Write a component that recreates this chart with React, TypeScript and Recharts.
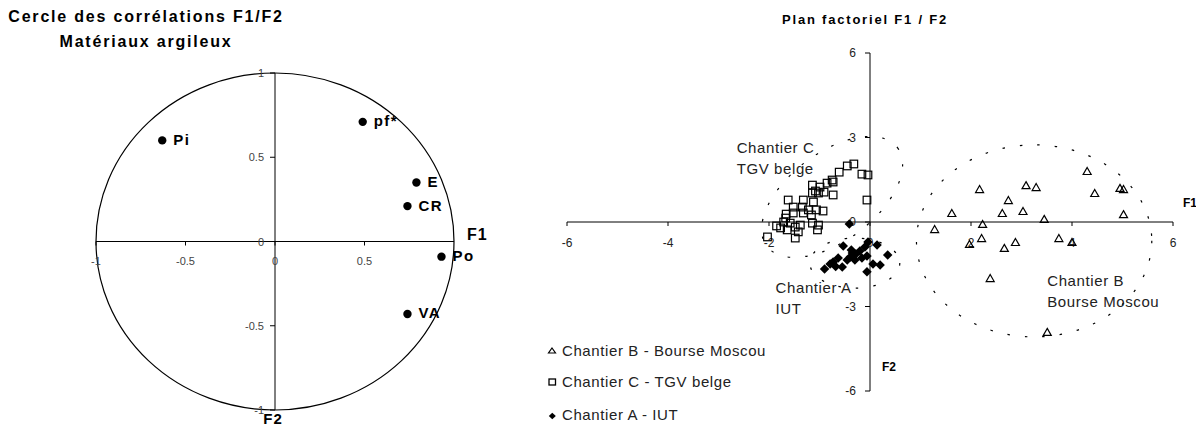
import { ScatterChart, Scatter, XAxis, YAxis, ReferenceLine, ReferenceDot, ReferenceArea, Legend } from 'recharts'

const FONT = '"Liberation Sans", Arial, Helvetica, sans-serif'

// Cercle des corrélations : coordonnées des variables sur F1 / F2
const variables = ['Pi', 'pf*', 'E', 'CR', 'Po', 'VA']
const corrF1 = [-0.63, 0.49, 0.79, 0.74, 0.93, 0.74]
const corrF2 = [0.6, 0.71, 0.35, 0.21, -0.09, -0.43]
const corrTicksX = [-1, -0.5, 0, 0.5]
const corrTicksY = [1, 0.5, 0, -0.5, -1]

// Plan factoriel : scores des individus [F1, F2] par chantier
const chantierB = [
  [4.3, 1.81], [4.45, 1.03], [4.95, 1.21], [5.02, 1.17], [5.02, 0.28], [3.45, 0.11],
  [3.29, 1.24], [3.09, 1.31], [2.74, 0.78], [3.03, 0.39], [2.62, 0.32], [2.17, 1.17],
  [1.62, 0.32], [1.28, -0.25], [2.23, -0.07], [2.21, -0.57], [1.97, -0.78], [2.66, -0.92],
  [2.88, -0.71], [3.74, -0.57], [4.0, -0.71], [2.38, -1.99], [3.51, -3.9],
]
const chantierC = [
  [-0.32, 2.06], [-0.45, 1.99], [-0.16, 1.7], [-0.04, 1.67], [-0.61, 1.77], [-0.75, 1.49],
  [-0.85, 1.38], [-0.73, 1.42], [-0.99, 1.24], [-1.14, 1.31], [-1.08, 1.1], [-1.14, 1.03],
  [-1.02, 1.03], [-0.91, 1.06], [-0.73, 0.96], [-0.06, 0.78], [-1.62, 0.78], [-1.32, 0.78],
  [-1.12, 0.71], [-1.52, 0.53], [-1.34, 0.53], [-1.22, 0.43], [-1.06, 0.43], [-0.93, 0.39],
  [-1.66, 0.28], [-1.52, 0.32], [-1.32, 0.32], [-1.16, 0.25], [-1.71, 0.0], [-1.77, -0.21],
  [-1.58, -0.04], [-1.48, -0.18], [-1.38, -0.11], [-1.14, -0.04], [-1.04, -0.28], [-1.42, -0.35],
  [-1.64, -0.28], [-2.03, -0.53], [-1.48, -0.57], [-1.02, -0.11], [-1.85, -0.14], [-1.67, 0.14],
]
const chantierA = [
  [-0.41, -0.07], [-0.53, -0.85], [-0.37, -0.99], [-0.2, -1.03], [-0.1, -0.89], [-0.04, -0.71],
  [0.14, -0.82], [0.35, -1.17], [-0.28, -1.14], [-0.39, -1.24], [-0.45, -1.35], [-0.63, -1.28],
  [-0.73, -1.42], [-0.79, -1.49], [-0.9, -1.67], [-0.55, -1.6], [-0.3, -1.35], [-0.16, -1.28],
  [-0.06, -1.21], [0.06, -1.49], [0.2, -1.53], [-0.06, -1.77], [-0.35, -1.1], [-0.68, -1.58],
]
const planTicksX = [-6, -4, -2, 0, 2, 4, 6]
const planTicksY = [6, 3, 0, -3, -6]

// ellipses de regroupement : centre, demi-axes (unités F) et inclinaison (degrés)
const groupCenterF1 = [-0.75, -0.3, 3.25]
const groupCenterF2 = [0.89, -1.46, -0.67]
const groupRadiusF1 = [1.62, 0.89, 2.33]
const groupRadiusF2 = [1.56, 0.89, 3.41]
const groupTilt = [-37, 0, 0]
const groupCaption = [['Chantier C', 'TGV belge'], ['Chantier A', 'IUT'], ['Chantier B', 'Bourse Moscou']]
const captionF1 = [-2.64, -1.87, 3.51]
const captionF2 = [2.63, -2.31, -2.06]

const legendLabels = ['Chantier B - Bourse Moscou', 'Chantier C - TGV belge', 'Chantier A - IUT']

const corrData = variables.map((name, i) => ({ name, x: corrF1[i], y: corrF2[i] }))
const toPoints = (rows: number[][]) => rows.map(([x, y]) => ({ x, y }))

const fmt = (v: number) => String(v)

// --- marker shapes ---
const VariableDot = (p: any) => (
  <g>
    <circle cx={p.cx} cy={p.cy} r={4.2} fill="#000" />
    <text x={p.cx + 11} y={p.cy - 1} dominantBaseline="central" fontSize={15} fontWeight="bold"
      letterSpacing={1.5} fontFamily={FONT} fill="#000">{p.payload.name}</text>
  </g>
)
const triangle = (cx: number, cy: number, w: number, h: number) =>
  `${cx},${cy - h / 2} ${cx + w / 2},${cy + h / 2} ${cx - w / 2},${cy + h / 2}`
const diamond = (cx: number, cy: number, w: number, h: number) =>
  `${cx},${cy - h / 2} ${cx + w / 2},${cy} ${cx},${cy + h / 2} ${cx - w / 2},${cy}`

const TriangleMark = (p: any) => (
  <polygon points={triangle(p.cx, p.cy, 8, 7)} fill="none" stroke="#000" strokeWidth={1.2} />
)
const SquareMark = (p: any) => (
  <rect x={p.cx - 3.8} y={p.cy - 3.8} width={7.6} height={7.6} fill="none" stroke="#000" strokeWidth={1.2} />
)
const DiamondMark = (p: any) => (
  <polygon points={diamond(p.cx, p.cy, 9.5, 9.5)} fill="#000" />
)

// --- axis ticks drawn at the crossing axes ---
const xTick = (label: string, len: number, dy: number, size: number, color: string) => (p: any) => (
  <g>
    <line x1={p.cx} y1={p.cy} x2={p.cx} y2={p.cy + len} stroke="#000" />
    <text x={p.cx} y={p.cy + dy} textAnchor="middle" dominantBaseline="central" fontSize={size}
      fontFamily={FONT} fill={color}>{label}</text>
  </g>
)
const yTick = (label: string, len: number, dx: number, size: number, color: string) => (p: any) => (
  <g>
    <line x1={p.cx - len} y1={p.cy} x2={p.cx} y2={p.cy} stroke="#000" />
    <text x={p.cx - dx} y={p.cy} textAnchor="end" dominantBaseline="central" fontSize={size}
      fontFamily={FONT} fill={color}>{label}</text>
  </g>
)

const ellipseShape = (tilt: number, dash?: string, width = 1) => (p: any) => {
  const cx = p.x + p.width / 2
  const cy = p.y + p.height / 2
  return (
    <ellipse cx={cx} cy={cy} rx={p.width / 2} ry={p.height / 2} transform={`rotate(${tilt} ${cx} ${cy})`}
      fill="none" stroke="#000" strokeWidth={width} strokeDasharray={dash} />
  )
}

const captionShape = (lines: string[]) => (p: any) => (
  <text x={p.cx} y={p.cy} fontSize={15} letterSpacing={0.6} fontFamily={FONT} fill="#222">
    {lines.map((l, i) => (
      <tspan key={l} x={p.cx} y={p.cy + i * 21} dominantBaseline="central">{l}</tspan>
    ))}
  </text>
)

const PlanLegend = () => (
  <svg width={250} height={100} style={{ display: 'block' }}>
    <polygon points={triangle(12, 20.5, 7, 5)} fill="none" stroke="#000" strokeWidth={1.2} />
    <rect x={9} y={49} width={6.5} height={6} fill="none" stroke="#000" strokeWidth={1.3} />
    <polygon points={diamond(12.3, 86, 7, 6.5)} fill="#000" />
    {legendLabels.map((l, i) => (
      <text key={l} x={22} y={[20, 51.7, 84.5][i]} dominantBaseline="central" fontSize={15}
        letterSpacing={0.6} fontFamily={FONT} fill="#222">{l}</text>
    ))}
  </svg>
)

function CorrelationCircle() {
  return (
    <ScatterChart width={520} height={426} margin={{ top: 73, right: 66, bottom: 16, left: 96 }}>
      <XAxis type="number" dataKey="x" domain={[-1, 1]} hide />
      <YAxis type="number" dataKey="y" domain={[-1, 1]} hide />
      <ReferenceArea x1={-1} x2={1} y1={-1} y2={1} ifOverflow="visible" shape={ellipseShape(0, undefined, 1.2)} />
      <ReferenceLine x={0} stroke="#000" />
      <ReferenceLine y={0} stroke="#000" />
      {corrTicksX.map((t) => (
        <ReferenceDot key={`x${t}`} x={t} y={0} ifOverflow="visible" shape={xTick(fmt(t), 4, 19, 11, '#444')} />
      ))}
      {corrTicksY.map((t) => (
        <ReferenceDot key={`y${t}`} x={0} y={t} ifOverflow="visible" shape={yTick(fmt(t), 5, 11, 11, '#444')} />
      ))}
      <Scatter data={corrData} shape={VariableDot} isAnimationActive={false} />
    </ScatterChart>
  )
}

function FactorPlane() {
  return (
    <ScatterChart width={676} height={426} margin={{ top: 53, right: 23, bottom: 35, left: 47 }}>
      <XAxis type="number" dataKey="x" domain={[-6, 6]} hide />
      <YAxis type="number" dataKey="y" domain={[-6, 6]} hide />
      {groupCenterF1.map((c, i) => (
        <ReferenceArea key={`g${i}`} ifOverflow="visible"
          x1={c - groupRadiusF1[i]} x2={c + groupRadiusF1[i]}
          y1={groupCenterF2[i] - groupRadiusF2[i]} y2={groupCenterF2[i] + groupRadiusF2[i]}
          shape={ellipseShape(groupTilt[i], '2.5 15', 1.2)} />
      ))}
      <ReferenceLine x={0} stroke="#000" />
      <ReferenceLine y={0} stroke="#000" />
      {planTicksX.map((t) => (
        <ReferenceDot key={`x${t}`} x={t} y={0} ifOverflow="visible" shape={xTick(fmt(t), 4, 21, 12, '#222')} />
      ))}
      {planTicksY.map((t) => (
        <ReferenceDot key={`y${t}`} x={0} y={t} ifOverflow="visible" shape={yTick(fmt(t), 5, 14, 12, '#222')} />
      ))}
      {groupCaption.map((lines, i) => (
        <ReferenceDot key={lines[0]} x={captionF1[i]} y={captionF2[i]} ifOverflow="visible" shape={captionShape(lines)} />
      ))}
      <Scatter data={toPoints(chantierC)} shape={SquareMark} isAnimationActive={false} />
      <Scatter data={toPoints(chantierB)} shape={TriangleMark} isAnimationActive={false} />
      <Scatter data={toPoints(chantierA)} shape={DiamondMark} isAnimationActive={false} />
      <Legend layout="vertical" align="center" verticalAlign="middle" content={PlanLegend}
        wrapperStyle={{ left: 20, top: 330, width: 250, height: 100 }} />
    </ScatterChart>
  )
}

export default function App() {
  const bold = { fontFamily: FONT, fontWeight: 'bold' as const, fill: '#000' }
  return (
    <div style={{ position: 'absolute', left: 0, top: 0, width: 1196, height: 426, background: '#fff', overflow: 'hidden' }}>
      <div style={{ position: 'absolute', left: 0, top: 0 }}>
        <CorrelationCircle />
      </div>
      <div style={{ position: 'absolute', left: 520, top: 0 }}>
        <FactorPlane />
      </div>
      <svg width={1196} height={426} style={{ position: 'absolute', left: 0, top: 0, pointerEvents: 'none' }}>
        <text x={146} y={22} textAnchor="middle" fontSize={16} letterSpacing={1.8} {...bold}>Cercle des corrélations F1/F2</text>
        <text x={146} y={47} textAnchor="middle" fontSize={16} letterSpacing={1.8} {...bold}>Matériaux argileux</text>
        <text x={467} y={240} fontSize={16} letterSpacing={1} {...bold}>F1</text>
        <text x={273} y={424} textAnchor="middle" fontSize={15} letterSpacing={1} {...bold}>F2</text>
        <text x={782} y={24} fontSize={13} letterSpacing={1.8} {...bold}>Plan factoriel F1 / F2</text>
        <text x={1183} y={207} fontSize={12} {...bold}>F1</text>
        <text x={882} y={371} fontSize={12} {...bold}>F2</text>
      </svg>
    </div>
  )
}
